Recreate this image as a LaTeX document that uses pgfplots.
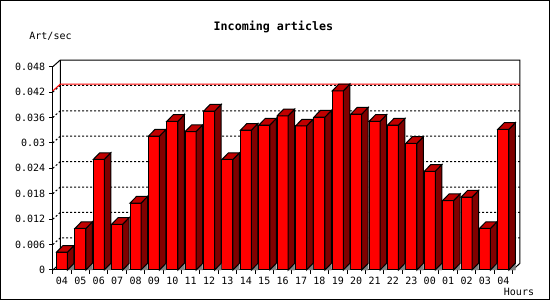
\documentclass[border=0pt]{standalone}
\usepackage{fontspec}
\setmonofont{DejaVu Sans Mono}
\usepackage{pgfplots}
\usepackage{pgfplotstable}
\pgfplotsset{compat=1.18}
\definecolor{barfront}{HTML}{FF0000}
\definecolor{bartop}{HTML}{C00000}
\definecolor{barside}{HTML}{800000}
\definecolor{floorgrey}{HTML}{808080}

\pgfplotstableread{
i v
0 0.0042
1 0.0098
2 0.0261
3 0.0108
4 0.0158
5 0.0316
6 0.0351
7 0.0327
8 0.0375
9 0.0261
10 0.0330
11 0.0342
12 0.0364
13 0.0340
14 0.0361
15 0.0423
16 0.0368
17 0.0351
18 0.0342
19 0.0299
20 0.0233
21 0.0164
22 0.0172
23 0.0098
24 0.0332
}\data

\begin{document}
\begin{tikzpicture}[font=\ttfamily\fontsize{10}{12}\selectfont]
\useasboundingbox (0,0) rectangle (550pt,300pt);
\draw[line width=1pt] (0.5pt,0.5pt) rectangle (549.5pt,299.5pt);
\node[font=\ttfamily\bfseries\fontsize{11.67}{14}\selectfont] at (273.4pt,273.3pt) {Incoming articles};
\node at (50.5pt,263.3pt) {Art/sec};
\node at (519pt,8.3pt) {Hours};
\begin{axis}[
  at={(52.8pt,30pt)}, anchor=south west,
  scale only axis, width=459.7pt, height=203.3pt,
  xmin=-0.5, xmax=24.5, ymin=0, ymax=0.048,
  clip=false,
  scaled y ticks=false,
  axis x line=bottom, axis y line=left,
  axis line style={-, line width=1pt},
  tick align=outside,
  tick style={black, line width=1pt},
  major tick length=4pt, minor tick length=4pt,
  xtick={0,...,24},
  xticklabels={04,05,06,07,08,09,10,11,12,13,14,15,16,17,18,19,20,21,22,23,00,01,02,03,04},
  major x tick style={draw=none},
  minor xtick={-0.5,0.5,...,24.5},
  ytick={0,0.006,0.012,0.018,0.024,0.03,0.036,0.042,0.048},
  yticklabels={0,0.006,0.012,0.018,0.024,0.03,0.036,0.042,0.048},
  ticklabel style={font=\ttfamily\fontsize{10}{12}\selectfont},
  /pgf/number format/assume math mode=true,
]
% back wall and left wall
\draw[line width=1pt, line join=miter] (axis cs:-0.5,0.048) -- ([shift={(7.5pt,6.7pt)}]axis cs:-0.5,0.048) -- ([shift={(7.5pt,6.7pt)}]axis cs:24.5,0.048) -- ([shift={(7.5pt,6.7pt)}]axis cs:24.5,0) -- (axis cs:24.5,0);
\draw[line width=1pt, line join=miter] (axis cs:-0.5,0) -- ([shift={(7.5pt,6.7pt)}]axis cs:-0.5,0) -- ([shift={(7.5pt,6.7pt)}]axis cs:-0.5,0.048);
% dotted grid
\pgfplotsinvokeforeach{0.006,0.012,0.018,0.024,0.03,0.036,0.042}{
  \draw[black, line width=1pt, dash pattern=on 2pt off 2pt] (axis cs:-0.5,#1) -- ([shift={(7.5pt,6.7pt)}]axis cs:-0.5,#1) -- ([shift={(7.5pt,6.7pt)}]axis cs:24.5,#1);
}
% maximum line
\draw[red, line width=1pt, line join=miter] (axis cs:-0.5,0.0423) -- ([shift={(7.5pt,6.7pt)}]axis cs:-0.5,0.0423) -- ([shift={(7.5pt,6.7pt)}]axis cs:24.5,0.0423);
% front faces
\addplot[ybar, bar width=11pt, bar shift=0pt, fill=barfront, draw=black, line width=1pt] table[x=i,y=v]{\data};
% side and top faces
\addplot[scatter, only marks, mark=*, mark size=0.001pt, mark options={draw=none,fill=none},
  visualization depends on={\thisrow{v} \as \rv},
  scatter/@pre marker code/.code={%
    \pgfmathsetmacro\h{-\rv*203.3/0.048}%
    \pgfmathsetmacro\hb{\h+6.7}%
    \fill[floorgrey] (5.5pt,\h pt) -- (12pt,\hb pt) -- (12pt,\h pt) -- cycle;
    \filldraw[fill=barside, draw=black, line width=1pt, line join=miter] (5.5pt,0pt) -- (12pt,6.7pt) -- (12pt,\hb pt) -- (5.5pt,\h pt) -- cycle;
    \filldraw[fill=bartop, draw=black, line width=1pt, line join=miter] (-5.5pt,0pt) -- (5.5pt,0pt) -- (12pt,6.7pt) -- (1pt,6.7pt) -- cycle;
  },
  scatter/@post marker code/.code={}
] table[x=i,y=v]{\data};
\end{axis}
\end{tikzpicture}
\end{document}
